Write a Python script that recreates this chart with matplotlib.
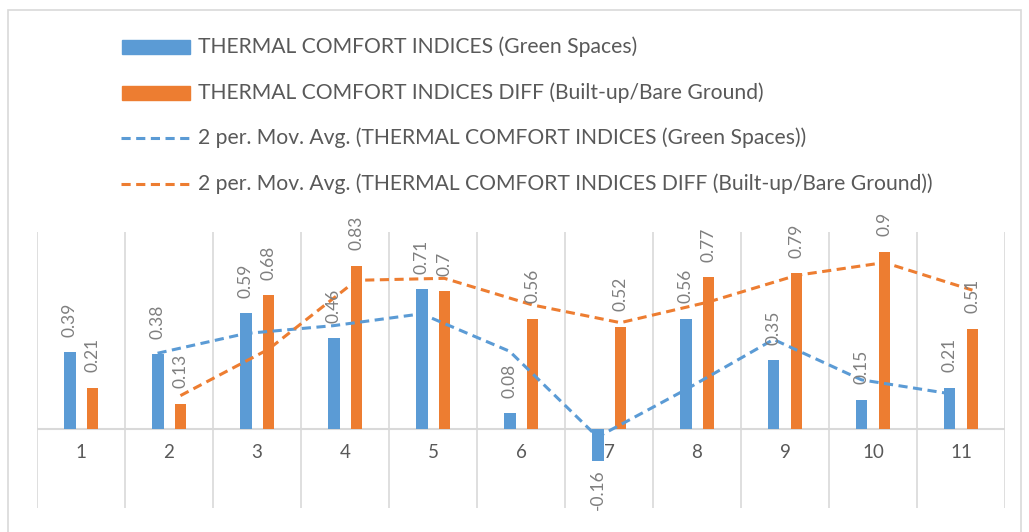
import matplotlib.pyplot as plt
from matplotlib.lines import Line2D
from matplotlib.patches import Rectangle
import numpy as np

plt.rcParams["font.family"] = ["Lato", "DejaVu Sans"]

categories = ["1", "2", "3", "4", "5", "6", "7", "8", "9", "10", "11"]
green = [0.39, 0.38, 0.59, 0.46, 0.71, 0.08, -0.16, 0.56, 0.35, 0.15, 0.21]
builtup = [0.21, 0.13, 0.68, 0.83, 0.7, 0.56, 0.52, 0.77, 0.79, 0.9, 0.51]
legend_labels = [
    "THERMAL COMFORT INDICES (Green Spaces)",
    "THERMAL COMFORT INDICES DIFF (Built-up/Bare Ground)",
    "2 per. Mov. Avg. (THERMAL COMFORT INDICES (Green Spaces))",
    "2 per. Mov. Avg. (THERMAL COMFORT INDICES DIFF (Built-up/Bare Ground))",
]

BLUE = "#5B9BD5"
ORANGE = "#ED7D31"
TEXT = "#595959"
LABEL = "#7f7f7f"
GRID = "#d9d9d9"

W, H = 1029, 532
fig = plt.figure(figsize=(W / 100, H / 100), dpi=100)
fig.patch.set_facecolor("white")

# outer chart frame
fig.add_artist(Rectangle((8 / W, -0.05), (1021 - 8) / W, 1.05 - 10 / H,
                         transform=fig.transFigure, fill=False,
                         edgecolor=GRID, linewidth=1.2))

ax = fig.add_axes([37 / W, (H - 508) / H, (1005 - 37) / W, (508 - 232) / H])
x = np.arange(1, len(categories) + 1)
bw = 0.135
off = 0.13

ax.bar(x - off, green, bw, color=BLUE, zorder=2)
ax.bar(x + off, builtup, bw, color=ORANGE, zorder=2)

# 2-period moving averages
g = np.array(green)
b = np.array(builtup)
ma_g = (g[1:] + g[:-1]) / 2
ma_b = (b[1:] + b[:-1]) / 2
dash = (3.0, 1.8)
ax.plot(x[1:] - off, ma_g, color=BLUE, lw=2.2, dashes=dash, zorder=3)
ax.plot(x[1:] + off, ma_b, color=ORANGE, lw=2.2, dashes=dash, zorder=3)

# data labels
for xs, vals in ((x - off, green), (x + off, builtup)):
    for xi, v in zip(xs, vals):
        if v >= 0:
            ax.annotate(f"{v:g}", (xi, v), xytext=(0, 11), textcoords="offset points",
                        rotation=90, ha="center", va="bottom", fontsize=12.5,
                        color=LABEL, zorder=4)
        else:
            ax.annotate(f"{v:g}", (xi, v), xytext=(0, -6), textcoords="offset points",
                        rotation=90, ha="center", va="top", fontsize=12.5,
                        color=LABEL, zorder=4)

ax.set_xlim(0.5, len(categories) + 0.5)
ax.set_ylim(-0.4, 1.0)
for xv in np.arange(0.5, len(categories) + 1, 1.0):
    ax.axvline(xv, color=GRID, lw=1.2, zorder=1)
ax.axhline(0, color=GRID, lw=1.5, zorder=1)
for s in ax.spines.values():
    s.set_visible(False)
ax.set_yticks([])
ax.set_xticks([])
for xi, c in zip(x, categories):
    ax.text(xi, -0.12, c, ha="center", va="center", fontsize=13.5, color=TEXT)

# legend
rows = [47, 93, 138, 184]
for i, (lab, y) in enumerate(zip(legend_labels, rows)):
    yf = 1 - y / H
    if i < 2:
        fig.add_artist(Rectangle((122 / W, yf - 7 / H), 68 / W, 14 / H,
                                 transform=fig.transFigure,
                                 color=[BLUE, ORANGE][i]))
    else:
        fig.add_artist(Line2D([121 / W, 191 / W], [yf, yf], transform=fig.transFigure,
                              color=[BLUE, ORANGE][i - 2], lw=2.2, dashes=dash))
    fig.text(198 / W, yf, lab, ha="left", va="center", fontsize=15.2, color=TEXT)

fig.savefig("out.png", dpi=100)
